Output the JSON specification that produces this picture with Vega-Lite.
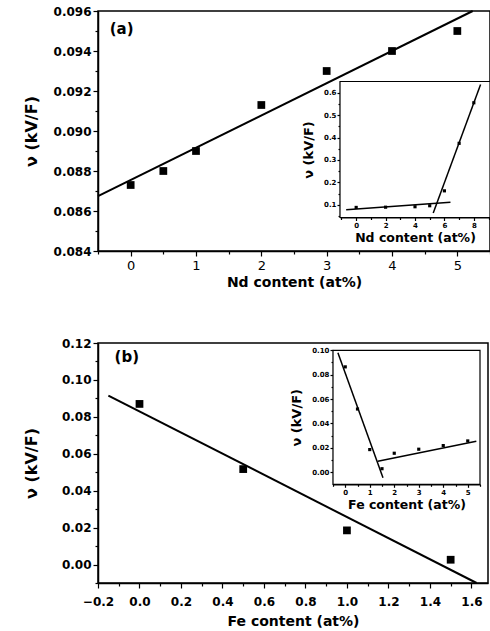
{
  "$schema": "https://vega.github.io/schema/vega-lite/v6.json",
  "padding": {"left": 22, "top": 4, "right": 0, "bottom": 0},
  "spacing": 46,
  "config": {
    "view": {"stroke": "black", "strokeWidth": 1.5},
    "axis": {"domainColor": "black", "domainWidth": 1.5, "tickColor": "black", "tickWidth": 1.2, "labelColor": "black", "titleColor": "black", "grid": false, "labelFont": "DejaVu Sans", "titleFont": "DejaVu Sans", "labelFontWeight": "bold", "titleFontWeight": "bold", "labelFontSize": 12, "titleFontSize": 14, "labelOverlap": false, "labelFlush": false, "labelBound": false, "tickCount": 100}
  },
  "datasets": {
    "a_pts": [{"nd": 0, "v": 0.0873}, {"nd": 0.5, "v": 0.0880}, {"nd": 1, "v": 0.0890}, {"nd": 2, "v": 0.0913}, {"nd": 3, "v": 0.0930}, {"nd": 4, "v": 0.0940}, {"nd": 5, "v": 0.0950}],
    "a_fit": [{"nd": -0.5, "v": 0.08674}, {"nd": 5.235, "v": 0.096}],
    "ai_pts": [{"nd": 0, "v": 0.088}, {"nd": 2, "v": 0.089}, {"nd": 4, "v": 0.091}, {"nd": 5, "v": 0.0955}, {"nd": 6, "v": 0.162}, {"nd": 7, "v": 0.374}, {"nd": 8, "v": 0.555}],
    "ai_fit": [{"seg": "low", "nd": -0.68, "v": 0.0778}, {"seg": "low", "nd": 6.41, "v": 0.1116}, {"seg": "high", "nd": 5.24, "v": 0.0626}, {"seg": "high", "nd": 8.46, "v": 0.637}],
    "b_pts": [{"fe": 0, "v": 0.087}, {"fe": 0.5, "v": 0.0517}, {"fe": 1.0, "v": 0.0185}, {"fe": 1.5, "v": 0.0026}],
    "b_fit": [{"fe": -0.15, "v": 0.0915}, {"fe": 1.625, "v": -0.01}],
    "bi_pts": [{"fe": 0, "v": 0.0864}, {"fe": 0.5, "v": 0.0518}, {"fe": 1.0, "v": 0.0185}, {"fe": 1.5, "v": 0.0028}, {"fe": 2, "v": 0.0155}, {"fe": 3, "v": 0.0188}, {"fe": 4, "v": 0.0218}, {"fe": 5, "v": 0.0256}],
    "bi_fit": [{"seg": "down", "fe": -0.3, "v": 0.098}, {"seg": "down", "fe": 1.54, "v": -0.0046}, {"seg": "up", "fe": 1.33, "v": 0.009}, {"seg": "up", "fe": 5.35, "v": 0.0253}]
  },
  "vconcat": [
    {
      "width": 392,
      "height": 240,
      "layer": [
        {
          "layer": [
            {
              "data": {"name": "a_fit"},
              "mark": {"type": "line", "color": "black", "strokeWidth": 2},
              "encoding": {
                "x": {"field": "nd", "type": "quantitative", "scale": {"domain": [-0.5, 5.5], "nice": false, "zero": false},
                  "axis": {"title": "Nd content (at%)", "tickCount": 100, "values": [-0.5, 0, 0.5, 1, 1.5, 2, 2.5, 3, 3.5, 4, 4.5, 5, 5.5], "labelExpr": "datum.value % 1 === 0 ? format(datum.value, 'd') : ''", "labelFontWeight": "normal", "labelFontSize": 13, "labelPadding": 3, "tickSize": {"condition": {"test": "datum.value % 1 === 0", "value": 5}, "value": 3}, "titlePadding": 3}},
                "y": {"field": "v", "type": "quantitative", "scale": {"domain": [0.084, 0.096], "nice": false, "zero": false},
                  "axis": {"title": "ν (kV/F)", "tickCount": 100, "titleFontSize": 16, "values": [0.084, 0.085, 0.086, 0.087, 0.088, 0.089, 0.09, 0.091, 0.092, 0.093, 0.094, 0.095, 0.096], "labelExpr": "round(datum.value*1000) % 2 === 0 ? format(datum.value, '.3f') : ''", "tickSize": {"condition": {"test": "round(datum.value*1000) % 2 === 0", "value": 5}, "value": 3}, "titlePadding": 14}}
              }
            },
            {
              "data": {"name": "a_pts"},
              "mark": {"type": "square", "color": "black", "filled": true, "opacity": 1, "size": 60},
              "encoding": {
                "x": {"field": "nd", "type": "quantitative"},
                "y": {"field": "v", "type": "quantitative"}
              }
            },
            {
              "data": {"values": [{"nd": -0.32, "v": 0.0951, "label": "(a)"}]},
              "mark": {"type": "text", "align": "left", "baseline": "middle", "font": "DejaVu Sans", "fontWeight": "bold", "fontSize": 15, "color": "black"},
              "encoding": {
                "x": {"field": "nd", "type": "quantitative"},
                "y": {"field": "v", "type": "quantitative"},
                "text": {"field": "label"}
              }
            }
          ]
        },
        {
          "layer": [
            {
              "data": {"values": [{"x1": -1.1, "x2": 9.1, "y1": 0.043, "y2": 0.65}]},
              "mark": {"type": "rect", "fill": "white", "stroke": "black", "strokeWidth": 1.2},
              "encoding": {
                "x": {"field": "x1", "type": "quantitative", "scale": {"domain": [-1.1, 9.1], "range": [242, 392], "nice": false, "zero": false},
                  "axis": {"orient": "bottom", "offset": -33.5, "tickCount": 100, "title": "Nd content (at%)", "titleFontSize": 12.5, "titlePadding": 3, "values": [-1, 0, 1, 2, 3, 4, 5, 6, 7, 8, 9], "labelExpr": "datum.value % 2 === 0 && datum.value >= 0 ? format(datum.value, 'd') : ''", "labelFontSize": 7, "labelPadding": 1, "tickSize": {"condition": {"test": "datum.value % 2 === 0", "value": 3}, "value": 2}, "domainWidth": 1.2}},
                "x2": {"field": "x2"},
                "y": {"field": "y1", "type": "quantitative", "scale": {"domain": [0.043, 0.65], "range": [206.5, 70.5], "nice": false, "zero": false},
                  "axis": {"orient": "left", "offset": -242, "tickCount": 100, "title": "ν (kV/F)", "titleFontSize": 13, "titlePadding": 8, "values": [0.05, 0.1, 0.15, 0.2, 0.25, 0.3, 0.35, 0.4, 0.45, 0.5, 0.55, 0.6], "labelExpr": "round(datum.value*100) % 10 === 0 ? format(datum.value, '.1f') : ''", "labelFontSize": 7, "labelPadding": 1, "tickSize": {"condition": {"test": "round(datum.value*100) % 10 === 0", "value": 3}, "value": 2}, "domainWidth": 1.2}},
                "y2": {"field": "y2"}
              }
            },
            {
              "data": {"name": "ai_fit"},
              "mark": {"type": "line", "color": "black", "strokeWidth": 1.5},
              "encoding": {
                "x": {"field": "nd", "type": "quantitative"},
                "y": {"field": "v", "type": "quantitative"},
                "detail": {"field": "seg"}
              }
            },
            {
              "data": {"name": "ai_pts"},
              "mark": {"type": "square", "color": "black", "filled": true, "opacity": 1, "size": 10},
              "encoding": {
                "x": {"field": "nd", "type": "quantitative"},
                "y": {"field": "v", "type": "quantitative"}
              }
            }
          ]
        }
      ],
      "resolve": {"scale": {"x": "independent", "y": "independent"}, "axis": {"x": "independent", "y": "independent"}}
    },
    {
      "width": 390,
      "height": 240,
      "layer": [
        {
          "layer": [
            {
              "data": {"name": "b_fit"},
              "mark": {"type": "line", "color": "black", "strokeWidth": 2},
              "encoding": {
                "x": {"field": "fe", "type": "quantitative", "scale": {"domain": [-0.2, 1.68], "nice": false, "zero": false},
                  "axis": {"title": "Fe content (at%)", "tickCount": 100, "values": [-0.2, -0.1, 0, 0.1, 0.2, 0.3, 0.4, 0.5, 0.6, 0.7, 0.8, 0.9, 1.0, 1.1, 1.2, 1.3, 1.4, 1.5, 1.6], "labelExpr": "round(datum.value*10) % 2 === 0 ? format(datum.value, '.1f') : ''", "labelPadding": 8, "tickSize": {"condition": {"test": "round(datum.value*10) % 2 === 0", "value": 5}, "value": 3}, "titlePadding": 7}},
                "y": {"field": "v", "type": "quantitative", "scale": {"domain": [-0.01, 0.12], "nice": false, "zero": false},
                  "axis": {"title": "ν (kV/F)", "tickCount": 100, "titleFontSize": 16, "values": [-0.01, 0, 0.01, 0.02, 0.03, 0.04, 0.05, 0.06, 0.07, 0.08, 0.09, 0.1, 0.11, 0.12], "labelExpr": "round(datum.value*100) % 2 === 0 && datum.value >= 0 ? format(datum.value, '.2f') : ''", "tickSize": {"condition": {"test": "round(datum.value*100) % 2 === 0", "value": 5}, "value": 3}, "titlePadding": 22}}
              }
            },
            {
              "data": {"name": "b_pts"},
              "mark": {"type": "square", "color": "black", "filled": true, "opacity": 1, "size": 60},
              "encoding": {
                "x": {"field": "fe", "type": "quantitative"},
                "y": {"field": "v", "type": "quantitative"}
              }
            },
            {
              "data": {"values": [{"fe": -0.12, "v": 0.1124, "label": "(b)"}]},
              "mark": {"type": "text", "align": "left", "baseline": "middle", "font": "DejaVu Sans", "fontWeight": "bold", "fontSize": 15, "color": "black"},
              "encoding": {
                "x": {"field": "fe", "type": "quantitative"},
                "y": {"field": "v", "type": "quantitative"},
                "text": {"field": "label"}
              }
            }
          ]
        },
        {
          "layer": [
            {
              "data": {"values": [{"x1": -0.5, "x2": 5.5, "y1": -0.01, "y2": 0.1}]},
              "mark": {"type": "rect", "fill": "white", "stroke": "black", "strokeWidth": 1.2},
              "encoding": {
                "x": {"field": "x1", "type": "quantitative", "scale": {"domain": [-0.5, 5.5], "range": [235, 382], "nice": false, "zero": false},
                  "axis": {"orient": "bottom", "offset": -98.7, "tickCount": 100, "title": "Fe content (at%)", "titleFontSize": 12.5, "titlePadding": 3, "values": [-0.5, 0, 0.5, 1, 1.5, 2, 2.5, 3, 3.5, 4, 4.5, 5, 5.5], "labelExpr": "datum.value % 1 === 0 ? format(datum.value, 'd') : ''", "labelFontSize": 7, "labelPadding": 1, "tickSize": {"condition": {"test": "datum.value % 1 === 0", "value": 3}, "value": 2}, "domainWidth": 1.2}},
                "x2": {"field": "x2"},
                "y": {"field": "y1", "type": "quantitative", "scale": {"domain": [-0.01, 0.1], "range": [141.3, 7.3], "nice": false, "zero": false},
                  "axis": {"orient": "left", "offset": -235, "tickCount": 100, "title": "ν (kV/F)", "titleFontSize": 13, "titlePadding": 8, "values": [0, 0.01, 0.02, 0.03, 0.04, 0.05, 0.06, 0.07, 0.08, 0.09, 0.1], "labelExpr": "round(datum.value*100) % 2 === 0 ? format(datum.value, '.2f') : ''", "labelFontSize": 7, "labelPadding": 1, "tickSize": {"condition": {"test": "round(datum.value*100) % 2 === 0", "value": 3}, "value": 2}, "domainWidth": 1.2}},
                "y2": {"field": "y2"}
              }
            },
            {
              "data": {"name": "bi_fit"},
              "mark": {"type": "line", "color": "black", "strokeWidth": 1.5},
              "encoding": {
                "x": {"field": "fe", "type": "quantitative"},
                "y": {"field": "v", "type": "quantitative"},
                "detail": {"field": "seg"}
              }
            },
            {
              "data": {"name": "bi_pts"},
              "mark": {"type": "square", "color": "black", "filled": true, "opacity": 1, "size": 10},
              "encoding": {
                "x": {"field": "fe", "type": "quantitative"},
                "y": {"field": "v", "type": "quantitative"}
              }
            }
          ]
        }
      ],
      "resolve": {"scale": {"x": "independent", "y": "independent"}, "axis": {"x": "independent", "y": "independent"}}
    }
  ]
}
